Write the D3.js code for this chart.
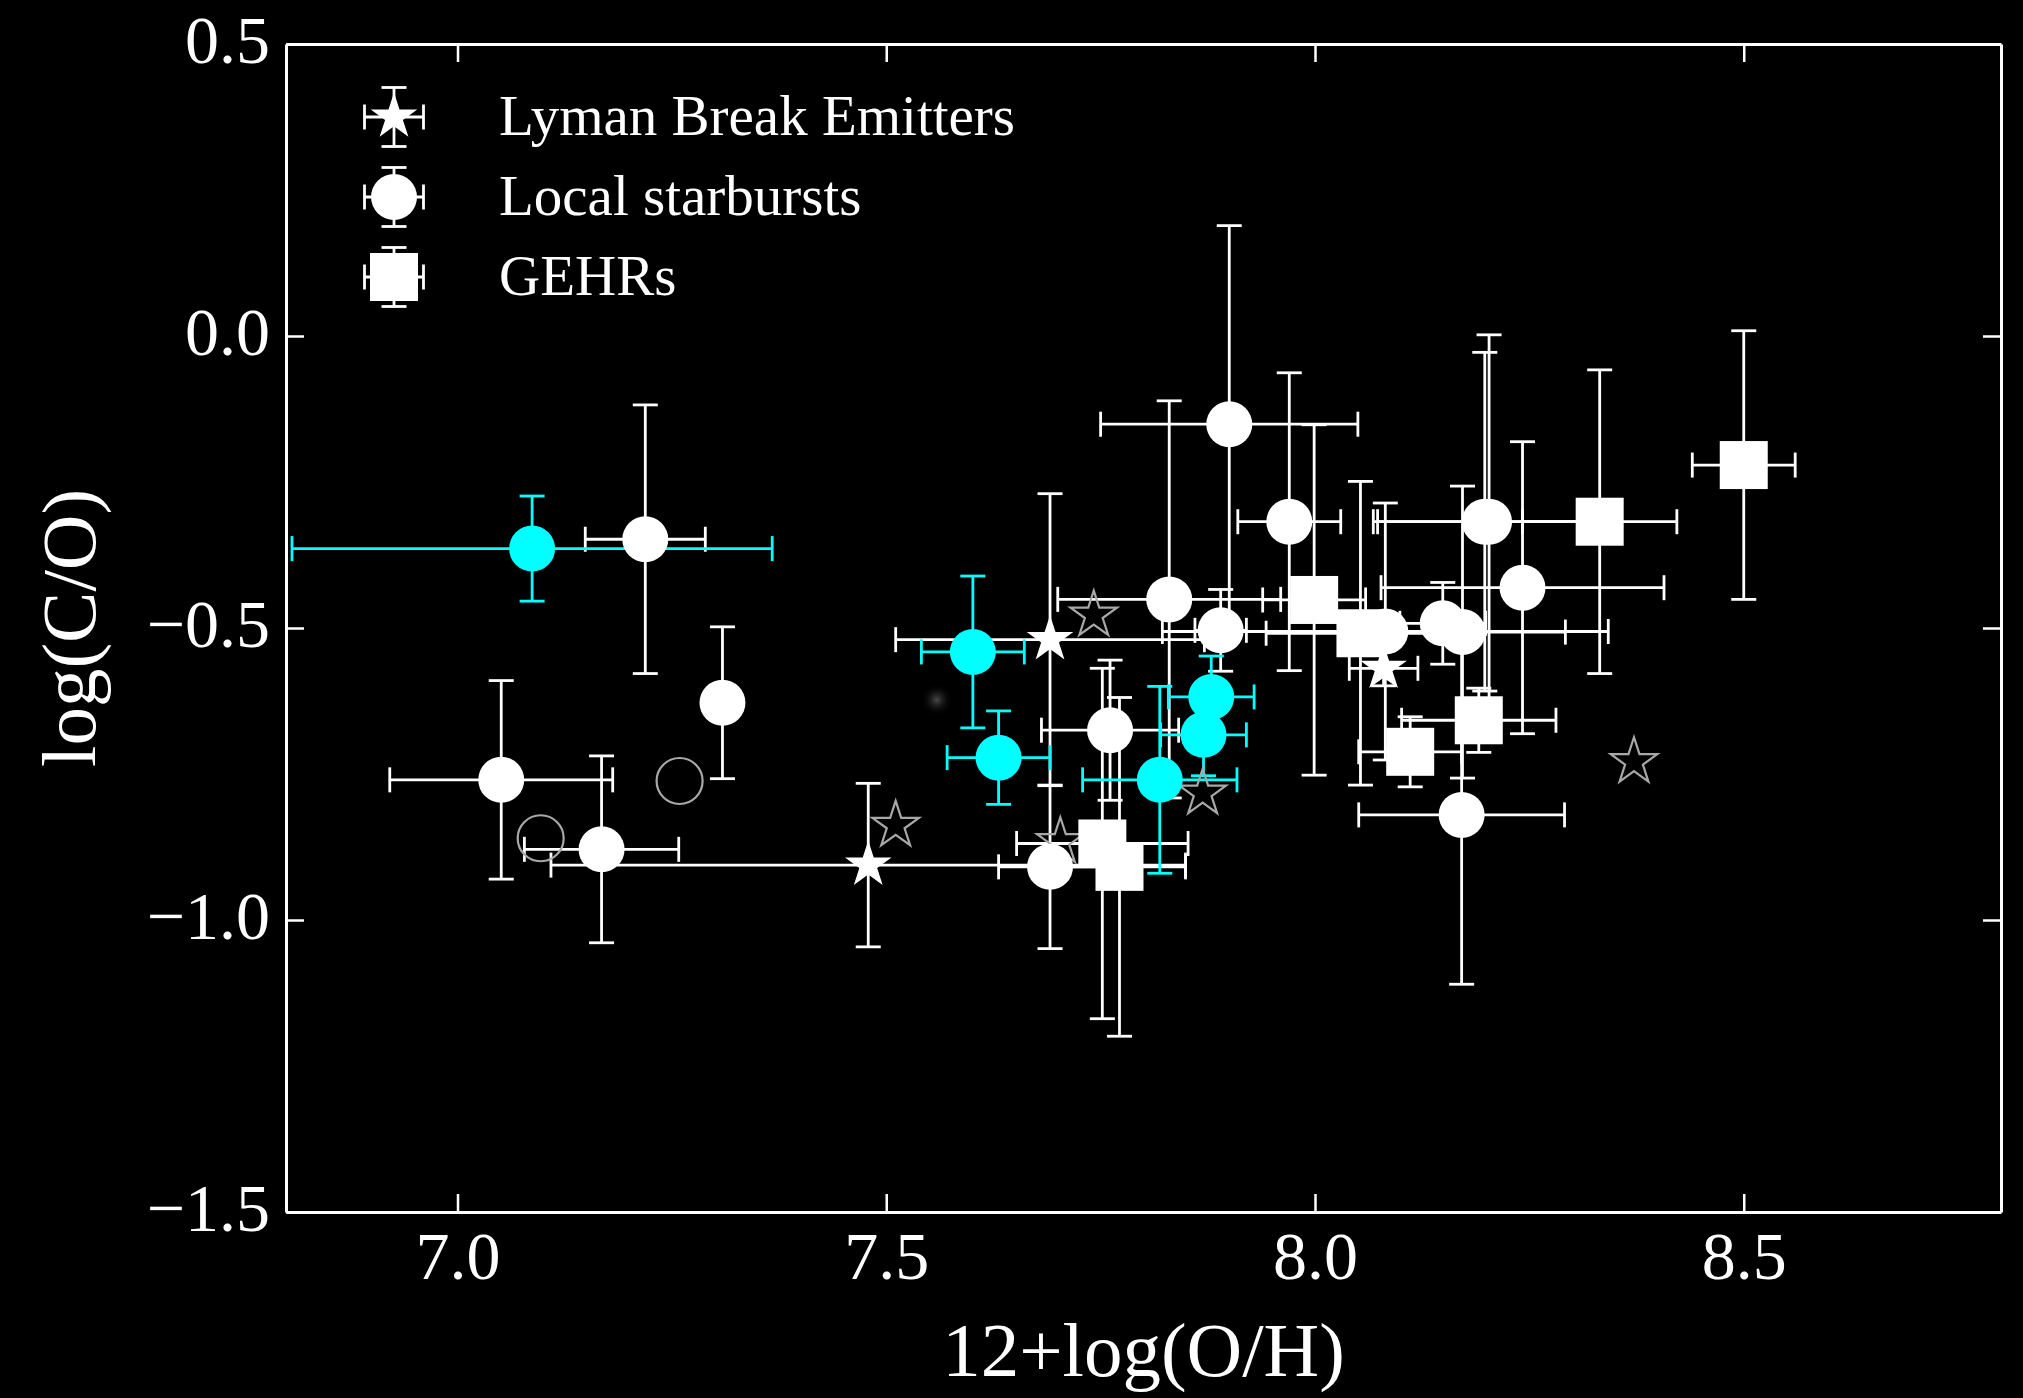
<!DOCTYPE html>
<html>
<head>
<meta charset="utf-8">
<script src="https://cdn.jsdelivr.net/npm/d3@7"></script>
<style>
  html, body { margin: 0; padding: 0; background: #000; }
  svg { display: block; }
</style>
</head>
<body>
<script>
// ---- data: 12+log(O/H) vs log(C/O) ----
const xTicks = [7.0, 7.5, 8.0, 8.5];
const yTicks = [-1.5, -1.0, -0.5, 0.0, 0.5];
const legendLabels = ["Lyman Break Emitters", "Local starbursts", "GEHRs"];

// Lyman break emitters (filled stars)
const lbeStars = [
  { x: 7.479, y: -0.906, xerr: 0.37, yerr: 0.14 },
  { x: 7.691, y: -0.520, xerr: 0.18, yerr: 0.25 },
  { x: 8.080, y: -0.569, xerr: 0.04, yerr: 0.03 }
];

// Local starbursts (white circles)
const starbursts = [
  { x: 7.051, y: -0.760, xerr: 0.13, yerr: 0.17 },
  { x: 7.168, y: -0.879, xerr: 0.09, yerr: 0.16 },
  { x: 7.219, y: -0.348, xerr: 0.07, yerr: 0.23 },
  { x: 7.309, y: -0.628, xerr: 0.00, yerr: 0.13 },
  { x: 7.691, y: -0.909, xerr: 0.06, yerr: 0.14 },
  { x: 7.761, y: -0.675, xerr: 0.08, yerr: 0.12 },
  { x: 7.830, y: -0.451, xerr: 0.13, yerr: 0.34 },
  { x: 7.890, y: -0.504, xerr: 0.03, yerr: 0.07 },
  { x: 7.900, y: -0.151, xerr: 0.15, yerr: 0.34 },
  { x: 7.970, y: -0.318, xerr: 0.06, yerr: 0.255 },
  { x: 8.082, y: -0.506, xerr: 0.26, yerr: 0.22 },
  { x: 8.149, y: -0.492, xerr: 0.05, yerr: 0.07 },
  { x: 8.172, y: -0.507, xerr: 0.12, yerr: 0.25 },
  { x: 8.171, y: -0.820, xerr: 0.12, yerr: 0.29 },
  { x: 8.198, y: -0.318, xerr: 0.13, yerr: 0.29 },
  { x: 8.203, y: -0.318, xerr: 0.13, yerr: 0.32 },
  { x: 8.242, y: -0.431, xerr: 0.165, yerr: 0.25 }
];

// Local starbursts highlighted in cyan
const starburstsCyan = [
  { x: 7.087, y: -0.364, xerr: 0.28, yerr: 0.09 },
  { x: 7.601, y: -0.541, xerr: 0.06, yerr: 0.13 },
  { x: 7.631, y: -0.722, xerr: 0.06, yerr: 0.08 },
  { x: 7.819, y: -0.760, xerr: 0.09, yerr: 0.16 },
  { x: 7.870, y: -0.683, xerr: 0.05, yerr: 0.07 },
  { x: 7.879, y: -0.618, xerr: 0.05, yerr: 0.07 }
];

// Giant extragalactic HII regions (squares)
const gehrs = [
  { x: 7.752, y: -0.869, xerr: 0.10, yerr: 0.30 },
  { x: 7.772, y: -0.909, xerr: 0.077, yerr: 0.29 },
  { x: 7.999, y: -0.452, xerr: 0.06, yerr: 0.30 },
  { x: 8.053, y: -0.509, xerr: 0.11, yerr: 0.26 },
  { x: 8.111, y: -0.712, xerr: 0.06, yerr: 0.06 },
  { x: 8.191, y: -0.658, xerr: 0.09, yerr: 0.055 },
  { x: 8.332, y: -0.318, xerr: 0.09, yerr: 0.26 },
  { x: 8.500, y: -0.221, xerr: 0.06, yerr: 0.23 }
];

// Unfilled comparison objects
const openCircles = [
  { x: 7.097, y: -0.860 },
  { x: 7.259, y: -0.762 }
];
const openStars = [
  { x: 7.511, y: -0.838 },
  { x: 7.703, y: -0.866 },
  { x: 7.742, y: -0.478 },
  { x: 7.869, y: -0.783 },
  { x: 8.372, y: -0.729 }
];
const faintPoints = [
  { x: 7.559, y: -0.623 }
];

// ---- layout ----
const W = 2023, H = 1398;
const plot = { left: 286, right: 2001, top: 44, bottom: 1212 };
const FONT = "'Liberation Serif', 'Times New Roman', Times, serif";
const WHITE = "#ffffff";
const CYAN = "#00ffff";
const R = 23;          // circle marker radius
const SQ = 48;         // square marker side
const STAR_R = 24.5;   // star outer radius
const CAP = 12.5;      // half cap length
const ELW = 2.8;       // error line width

const x = d3.scaleLinear().domain([6.8, 8.8]).range([plot.left, plot.right]);
const y = d3.scaleLinear().domain([-1.5, 0.5]).range([plot.bottom, plot.top]);

const svg = d3.select("body").append("svg")
  .attr("width", W).attr("height", H)
  .style("background", "#000");

svg.append("defs").append("clipPath").attr("id", "plotClip")
  .append("rect")
  .attr("x", plot.left).attr("y", plot.top)
  .attr("width", plot.right - plot.left).attr("height", plot.bottom - plot.top);

const grad = svg.select("defs").append("radialGradient").attr("id", "faintGrad");
grad.append("stop").attr("offset", "0%").attr("stop-color", "#4a4a4a");
grad.append("stop").attr("offset", "100%").attr("stop-color", "#000").attr("stop-opacity", 0);

function starPath(Ro) {
  const ri = Ro * 0.382;
  const pts = [];
  for (let i = 0; i < 10; i++) {
    const a = -Math.PI / 2 + i * Math.PI / 5;
    const rr = i % 2 ? ri : Ro;
    pts.push([rr * Math.cos(a), rr * Math.sin(a)]);
  }
  return "M" + pts.map(p => p[0].toFixed(2) + "," + p[1].toFixed(2)).join("L") + "Z";
}

// error bars: horizontal + vertical segments with caps, in pixel space
function errorSegments(d) {
  const segs = [];
  const cx = x(d.x), cy = y(d.y);
  if (d.xerr > 0) {
    const x0 = x(d.x - d.xerr), x1 = x(d.x + d.xerr);
    segs.push([x0, cy, x1, cy]);
    segs.push([x0, cy - CAP, x0, cy + CAP]);
    segs.push([x1, cy - CAP, x1, cy + CAP]);
  }
  if (d.yerr > 0) {
    const y0 = y(d.y - d.yerr), y1 = y(d.y + d.yerr);
    segs.push([cx, y0, cx, y1]);
    segs.push([cx - CAP, y0, cx + CAP, y0]);
    segs.push([cx - CAP, y1, cx + CAP, y1]);
  }
  return segs;
}

const plotArea = svg.append("g").attr("clip-path", "url(#plotClip)");

function drawErrors(data, color) {
  const segs = data.flatMap(errorSegments);
  plotArea.append("g").selectAll("line").data(segs).join("line")
    .attr("x1", s => s[0]).attr("y1", s => s[1])
    .attr("x2", s => s[2]).attr("y2", s => s[3])
    .attr("stroke", color).attr("stroke-width", ELW);
}

// error bars below all markers
drawErrors(starbursts, WHITE);
drawErrors(gehrs, WHITE);
drawErrors(lbeStars, WHITE);
drawErrors(starburstsCyan, CYAN);

// faint background detection
plotArea.append("g").selectAll("circle").data(faintPoints).join("circle")
  .attr("cx", d => x(d.x)).attr("cy", d => y(d.y)).attr("r", 16)
  .attr("fill", "url(#faintGrad)");

// unfilled markers
plotArea.append("g").selectAll("circle").data(openCircles).join("circle")
  .attr("cx", d => x(d.x)).attr("cy", d => y(d.y)).attr("r", R)
  .attr("fill", "none").attr("stroke", "#a8a8a8").attr("stroke-width", 2.2);

plotArea.append("g").selectAll("path").data(openStars).join("path")
  .attr("transform", d => `translate(${x(d.x)},${y(d.y)})`)
  .attr("d", starPath(STAR_R))
  .attr("fill", "none").attr("stroke", "#a8a8a8").attr("stroke-width", 2.2)
  .attr("stroke-linejoin", "miter");

// filled markers
plotArea.append("g").selectAll("circle").data(starbursts).join("circle")
  .attr("cx", d => x(d.x)).attr("cy", d => y(d.y)).attr("r", R)
  .attr("fill", WHITE);

plotArea.append("g").selectAll("rect").data(gehrs).join("rect")
  .attr("x", d => x(d.x) - SQ / 2).attr("y", d => y(d.y) - SQ / 2)
  .attr("width", SQ).attr("height", SQ)
  .attr("fill", WHITE);

plotArea.append("g").selectAll("path").data(lbeStars).join("path")
  .attr("transform", d => `translate(${x(d.x)},${y(d.y)})`)
  .attr("d", starPath(STAR_R))
  .attr("fill", WHITE);

plotArea.append("g").selectAll("circle").data(starburstsCyan).join("circle")
  .attr("cx", d => x(d.x)).attr("cy", d => y(d.y)).attr("r", R)
  .attr("fill", CYAN);

// ---- axes ----
const fmt = d3.format(".1f");
function styleAxis(g) {
  g.select(".domain").attr("stroke", WHITE).attr("stroke-width", 3);
  g.selectAll(".tick line").attr("stroke", WHITE).attr("stroke-width", 2.5);
  g.selectAll(".tick text")
    .attr("fill", WHITE)
    .style("font-family", FONT)
    .style("font-size", "68px");
}

svg.append("g")
  .attr("transform", `translate(0,${plot.bottom})`)
  .call(d3.axisBottom(x).tickValues(xTicks).tickSizeInner(-18).tickSizeOuter(0)
    .tickPadding(19).tickFormat(fmt))
  .call(styleAxis);

svg.append("g")
  .attr("transform", `translate(0,${plot.top})`)
  .call(d3.axisTop(x).tickValues(xTicks).tickSizeInner(-18).tickSizeOuter(0)
    .tickFormat(""))
  .call(styleAxis);

svg.append("g")
  .attr("transform", `translate(${plot.left},0)`)
  .call(d3.axisLeft(y).tickValues(yTicks).tickSizeInner(-18).tickSizeOuter(0)
    .tickPadding(16).tickFormat(fmt))
  .call(styleAxis)
  .call(g => g.selectAll(".tick text").attr("dy", "0.27em"));

svg.append("g")
  .attr("transform", `translate(${plot.right},0)`)
  .call(d3.axisRight(y).tickValues(yTicks).tickSizeInner(-18).tickSizeOuter(0)
    .tickFormat(""))
  .call(styleAxis);

// axis titles
svg.append("text")
  .attr("x", (plot.left + plot.right) / 2).attr("y", 1376)
  .attr("text-anchor", "middle")
  .attr("fill", WHITE)
  .style("font-family", FONT).style("font-size", "77px")
  .text("12+log(O/H)");

svg.append("text")
  .attr("transform", `translate(95,${(plot.top + plot.bottom) / 2}) rotate(-90)`)
  .attr("text-anchor", "middle")
  .attr("fill", WHITE)
  .style("font-family", FONT).style("font-size", "77px")
  .text("log(C/O)");

// ---- legend ----
const legendX = 394, legendTextX = 499;
const legendRows = [117, 197, 277];
const legendShapes = ["star", "circle", "square"];
const LEG_E = 29.5;

const legend = svg.append("g");
legendRows.forEach((ry, i) => {
  const g = legend.append("g").attr("transform", `translate(${legendX},${ry})`);
  const segs = [
    [-LEG_E, 0, LEG_E, 0], [-LEG_E, -CAP, -LEG_E, CAP], [LEG_E, -CAP, LEG_E, CAP],
    [0, -LEG_E, 0, LEG_E], [-CAP, -LEG_E, CAP, -LEG_E], [-CAP, LEG_E, CAP, LEG_E]
  ];
  g.selectAll("line").data(segs).join("line")
    .attr("x1", s => s[0]).attr("y1", s => s[1])
    .attr("x2", s => s[2]).attr("y2", s => s[3])
    .attr("stroke", WHITE).attr("stroke-width", ELW);
  if (legendShapes[i] === "star") {
    g.append("path").attr("d", starPath(STAR_R)).attr("fill", WHITE);
  } else if (legendShapes[i] === "circle") {
    g.append("circle").attr("r", R).attr("fill", WHITE);
  } else {
    g.append("rect").attr("x", -SQ / 2).attr("y", -SQ / 2)
      .attr("width", SQ).attr("height", SQ).attr("fill", WHITE);
  }
  legend.append("text")
    .attr("x", legendTextX).attr("y", ry + 18)
    .attr("fill", WHITE)
    .style("font-family", FONT).style("font-size", "57px")
    .text(legendLabels[i]);
});
</script>
</body>
</html>
